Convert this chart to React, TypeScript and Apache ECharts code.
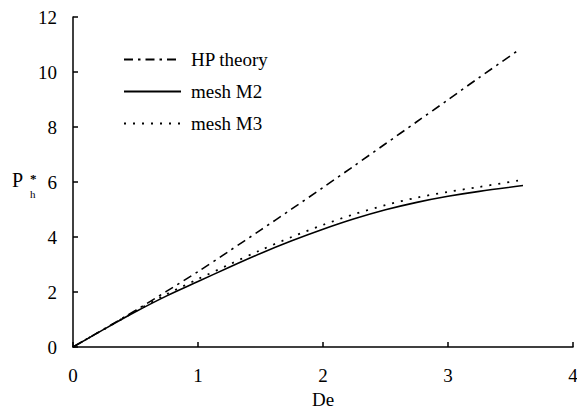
import React, { useEffect, useRef } from "react";
import * as echarts from "echarts";

const seriesNames = ["HP theory", "mesh M2", "mesh M3"];
const deHP = [0, 0.25, 0.5, 0.75, 1, 1.25, 1.5, 1.75, 2, 2.25, 2.5, 2.75, 3, 3.25, 3.55];
const pHP = [0, 0.66, 1.33, 2.03, 2.74, 3.49, 4.25, 5.02, 5.8, 6.59, 7.39, 8.19, 8.99, 9.8, 10.75];
const deMesh = [0, 0.25, 0.5, 0.75, 1, 1.25, 1.5, 1.75, 2, 2.25, 2.5, 2.75, 3, 3.25, 3.6];
const pM2 = [0, 0.65, 1.28, 1.86, 2.38, 2.9, 3.4, 3.86, 4.28, 4.66, 4.99, 5.26, 5.48, 5.66, 5.87];
const pM3 = [0, 0.65, 1.3, 1.92, 2.47, 3.0, 3.52, 4.0, 4.44, 4.83, 5.16, 5.43, 5.64, 5.82, 6.08];
const xTicks = { min: 0, max: 4, interval: 1 };
const yTicks = { min: 0, max: 12, interval: 2 };

const FONT = "Liberation Serif";
const FS = 19;

const pairs = (xs: number[], ys: number[]) => xs.map((x, i) => [x, ys[i]]);

export default function App() {
  const ref = useRef<HTMLDivElement>(null);
  useEffect(() => {
    document.body.style.margin = "0";
    if (!ref.current) return;
    const chart = echarts.init(ref.current, undefined, { renderer: "svg" });
    const axisCommon = {
      axisLine: { show: true, lineStyle: { color: "#000", width: 1.5 } },
      axisTick: { show: true, inside: true, length: 5, lineStyle: { color: "#000", width: 1.5 } },
      splitLine: { show: false },
      axisLabel: { color: "#000", fontFamily: FONT, fontSize: FS },
    };
    chart.setOption({
      animation: false,
      backgroundColor: "#fff",
      grid: { left: 73, right: 4, top: 17, bottom: 69, outerBoundsMode: "none", containLabel: false },
      legend: {
        orient: "vertical",
        left: 118,
        top: 45,
        itemWidth: 57,
        itemHeight: 14,
        itemGap: 13,
        data: seriesNames,
        itemStyle: { opacity: 0 },
        textStyle: { color: "#000", fontFamily: FONT, fontSize: FS, padding: [0, 0, 0, 5] },
      },
      xAxis: {
        type: "value",
        ...xTicks,
        ...axisCommon,
        axisLabel: { ...axisCommon.axisLabel, margin: 19 },
        name: "De",
        nameLocation: "middle",
        nameGap: 41,
        nameTextStyle: { color: "#000", fontFamily: FONT, fontSize: FS },
      },
      yAxis: {
        type: "value",
        ...yTicks,
        ...axisCommon,
        axisLabel: { ...axisCommon.axisLabel, margin: 16 },
      },
      graphic: [
        { type: "text", left: 12, top: 170, style: { text: "P", fill: "#000", font: `20px "${FONT}"` } },
        { type: "text", left: 30, top: 188, style: { text: "h", fill: "#000", font: `11px "${FONT}"` } },
        { type: "text", left: 30, top: 172, style: { text: "*", fill: "#000", font: `bold 13px "${FONT}"` } },
      ],
      series: [
        {
          name: seriesNames[0],
          type: "line",
          data: pairs(deHP, pHP),
          showSymbol: false,
          symbol: "none",
          smooth: 0.3,
          itemStyle: { color: "#000" },
          lineStyle: { color: "#000", width: 1.6, type: [9, 5, 2.5, 5] },
        },
        {
          name: seriesNames[1],
          type: "line",
          data: pairs(deMesh, pM2),
          showSymbol: false,
          symbol: "none",
          smooth: 0.3,
          itemStyle: { color: "#000" },
          lineStyle: { color: "#000", width: 1.6, type: "solid" },
        },
        {
          name: seriesNames[2],
          type: "line",
          data: pairs(deMesh, pM3),
          showSymbol: false,
          symbol: "none",
          smooth: 0.3,
          itemStyle: { color: "#000" },
          lineStyle: { color: "#000", width: 1.8, type: [2, 7] },
        },
      ],
    });
    return () => chart.dispose();
  }, []);
  return <div ref={ref} style={{ width: 577, height: 416 }} />;
}
